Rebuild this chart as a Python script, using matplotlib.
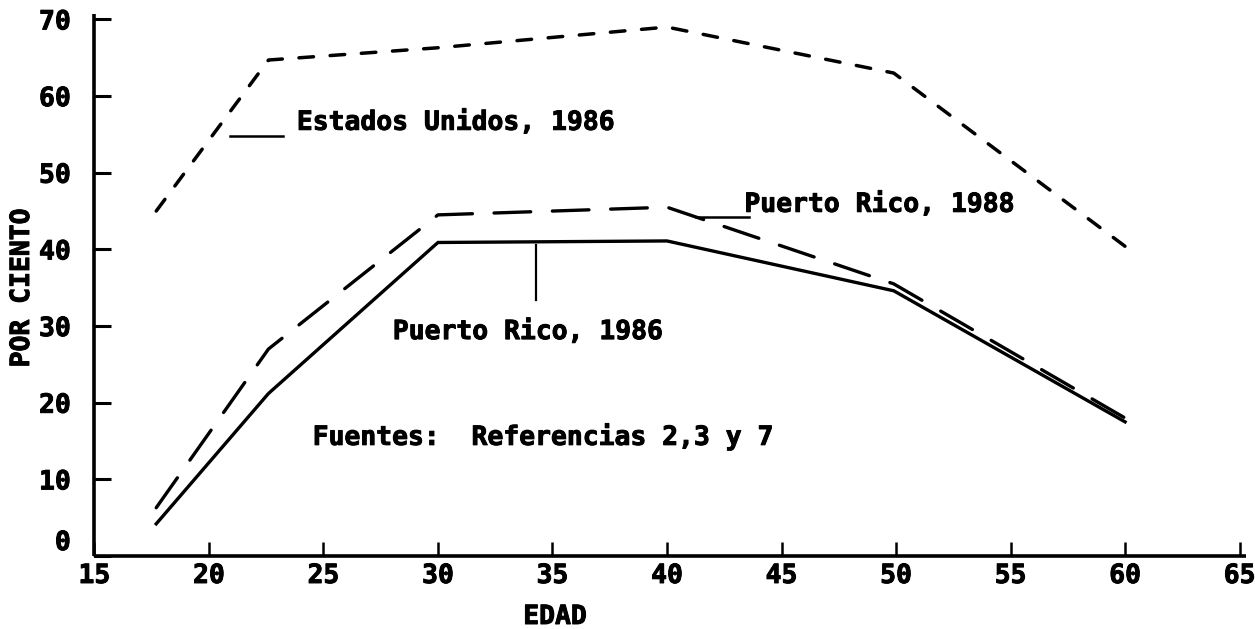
import matplotlib
matplotlib.use("Agg")
import matplotlib.pyplot as plt
import matplotlib.patheffects as pe

# ---- data ----
edad = [17.7, 22.6, 30.0, 40.0, 49.9, 60.0]
estados_unidos_1986 = [45.0, 64.7, 66.3, 69.0, 63.0, 40.4]
puerto_rico_1988 = [6.3, 27.0, 44.5, 45.5, 35.5, 18.0]
puerto_rico_1986 = [4.2, 21.2, 40.9, 41.1, 34.6, 17.5]

x_ticks = [15, 20, 25, 30, 35, 40, 45, 50, 55, 60, 65]
y_ticks = [0, 10, 20, 30, 40, 50, 60, 70]

FONT = "DejaVu Sans Mono"
plt.rcParams['font.family'] = [FONT, 'DejaVu Sans']
plt.rcParams['font.weight'] = 'bold'

heavy = [pe.withStroke(linewidth=0.7, foreground='black')]

fig = plt.figure(figsize=(12.55, 6.29), dpi=100)
ax = fig.add_axes([0.0752, 0.116, 0.918, 0.8617])

ax.plot(edad, estados_unidos_1986, color='black', lw=2.5,
        linestyle=(0, (4.2, 4.8)), dash_capstyle='round')
ax.plot(edad, puerto_rico_1988, color='black', lw=2.4,
        linestyle=(0, (11.0, 6.5)), dash_capstyle='round')
ax.plot(edad, puerto_rico_1986, color='black', lw=2.4, solid_joinstyle='miter')

ax.set_xlim(15, 65.3)
ax.set_ylim(0, 70.7)
ax.set_xticks(x_ticks)
ax.set_yticks(y_ticks)
ax.set_xticklabels([str(v) for v in x_ticks], fontsize=19, fontweight='bold')
ax.set_yticklabels([str(v) for v in y_ticks], fontsize=19, fontweight='bold')
for lab in ax.get_xticklabels() + ax.get_yticklabels():
    lab.set_path_effects(heavy)
# the "0" label sits a little above the axis in the reference
ax.get_yticklabels()[0].set_verticalalignment('bottom')

for s in ['top', 'right']:
    ax.spines[s].set_visible(False)
for s in ['left', 'bottom']:
    ax.spines[s].set_linewidth(2.6)
    ax.spines[s].set_capstyle('butt')

ax.tick_params(axis='y', direction='in', length=12, width=2.2, pad=17)
ax.tick_params(axis='x', direction='in', length=10, width=1.8, pad=5)

# annotations
txt_kw = dict(fontsize=19, fontweight='bold', family=FONT, ha='left', va='baseline',
              path_effects=heavy)
ax.text(23.84, 55.6, "Estados Unidos, 1986", **txt_kw)
ax.plot([20.92, 23.22], [54.8, 54.8], color='black', lw=1.8)

ax.text(43.38, 44.9, "Puerto Rico, 1988", **txt_kw)
ax.plot([41.28, 43.6], [44.2, 44.2], color='black', lw=1.8)

ax.text(28.03, 28.3, "Puerto Rico, 1986", **txt_kw)
ax.plot([34.26, 34.26], [40.6, 33.4], color='black', lw=1.6)

ax.text(24.53, 14.5, "Fuentes:  Referencias 2,3 y 7", **txt_kw)

fig.text(555 / 1255, 1 - 617 / 629, "EDAD", fontsize=19, fontweight='bold',
         family=FONT, ha='center', va='center', path_effects=heavy)
fig.text(22 / 1255, 1 - 288 / 629, "POR CIENTO", fontsize=19, fontweight='bold',
         family=FONT, ha='center', va='center', rotation=90, path_effects=heavy)

fig.savefig("out.png", dpi=100, facecolor='white')
